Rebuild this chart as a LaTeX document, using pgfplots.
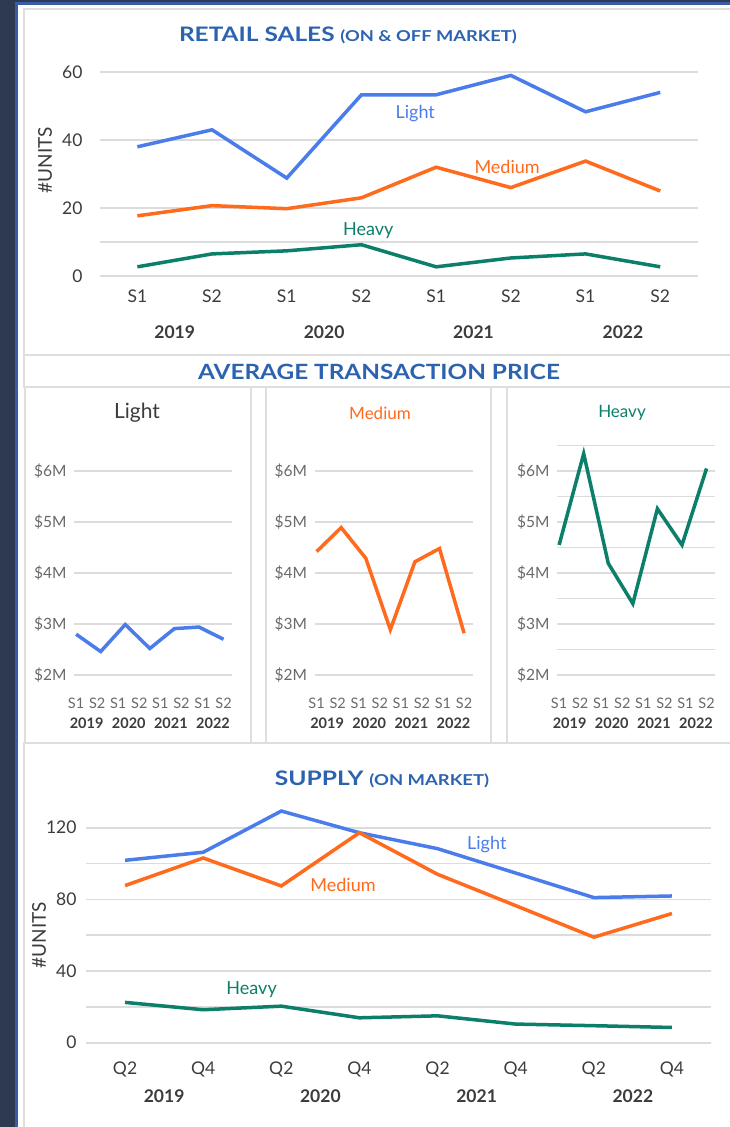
\documentclass[border=0pt]{standalone}
\usepackage{fontspec}
\setmainfont{Lato}
\usepackage{graphicx}
\usepackage{pgfplots}
\pgfplotsset{compat=1.18}
\definecolor{navy}{HTML}{2E3A52}
\definecolor{edge}{HTML}{3A5BA8}
\definecolor{frame}{HTML}{DEDEDE}
\definecolor{gridc}{HTML}{DCDCDC}
\definecolor{ttl}{HTML}{2C63B0}
\definecolor{lightc}{HTML}{4A7DEB}
\definecolor{medc}{HTML}{FF6A1C}
\definecolor{heavyc}{HTML}{0B7F69}
\definecolor{txt}{HTML}{3C3C3C}
\definecolor{txtl}{HTML}{6A6A6A}

\pgfplotsset{
  dash/.style={
    scale only axis, clip=false,
    axis line style={draw=none},
    ymajorgrids=true, grid style={gridc, line width=1.6pt},
    major tick length=0pt, tick style={draw=none},
    every axis plot/.append style={line width=3.5pt, line join=miter, mark=none},
  },
  big/.style={dash,
    xmin=-0.5, xmax=7.5, xtick={0,...,7},
    ticklabel style={font=\fontsize{17.5}{17.5}\selectfont, text=txt},
    xticklabel style={yshift=-10pt},
    yticklabel style={xshift=-6pt},
  },
  small/.style={dash,
    width=158pt, height=204pt, ymin=2, ymax=6,
    xmin=-0.1, xmax=7.4, xtick={0,...,7},
    xticklabels={S1,S2,S1,S2,S1,S2,S1,S2},
    ytick={2,3,4,5,6}, yticklabels={\$2M,\$3M,\$4M,\$5M,\$6M},
    ticklabel style={font=\fontsize{15.5}{15.5}\selectfont, text=txtl},
    xticklabel style={yshift=-19pt, font=\fontsize{14.5}{14.5}\selectfont},
    yticklabel style={xshift=-4pt},
  },
}
% year labels under a panel: #1 = base y value, #2 = shift, #3 = font
\newcommand{\years}[3]{%
  \node[text=txt, font=#3] at (axis cs:0.5,#1) [yshift=#2] {2019};
  \node[text=txt, font=#3] at (axis cs:2.5,#1) [yshift=#2] {2020};
  \node[text=txt, font=#3] at (axis cs:4.5,#1) [yshift=#2] {2021};
  \node[text=txt, font=#3] at (axis cs:6.5,#1) [yshift=#2] {2022};
}

\begin{document}
\begin{tikzpicture}[x=1pt,y=1pt]
\useasboundingbox (0,0) rectangle (730,-1127);
% frame of the dashboard
\fill[navy] (0,0) rectangle (730,-1127);
\fill[edge] (15,-2) rectangle (730,-1127);
\fill[white] (18,-5) rectangle (730,-1127);
\begin{scope}[frame, line width=1.8pt]
\draw (24,-9) rectangle (745,-355);
\draw (24,-355) rectangle (745,-387);
\draw (25,-387) rectangle (251,-743);
\draw (266,-387) rectangle (491,-743);
\draw (507,-387) rectangle (745,-743);
\draw (24,-743) rectangle (745,-1140);
\end{scope}

% titles
\node[text=ttl, font=\fontsize{20}{20}\selectfont\bfseries] at (348,-35)
  {\scalebox{1.22}[1]{RETAIL SALES {\fontsize{15}{15}\selectfont(ON \& OFF MARKET)}}};
\node[text=ttl, font=\fontsize{21}{21}\selectfont\bfseries] at (379,-372)
  {\scalebox{1.16}[1]{AVERAGE TRANSACTION PRICE}};
\node[text=ttl, font=\fontsize{20}{20}\selectfont\bfseries] at (382,-779)
  {\scalebox{1.23}[1]{SUPPLY {\fontsize{15}{15}\selectfont(ON MARKET)}}};
\node[text=txt, font=\fontsize{21}{21}\selectfont] at (137,-413) {Light};
\node[text=medc, font=\fontsize{17}{17}\selectfont] at (380,-413) {Medium};
\node[text=heavyc, font=\fontsize{17}{17}\selectfont] at (622,-413) {Heavy};
\node[rotate=90, text=txt, font=\fontsize{19}{19}\selectfont] at (45,-160) {\#UNITS};
\node[rotate=90, text=txt, font=\fontsize{19}{19}\selectfont] at (39,-935) {\#UNITS};

% ---------- retail sales ----------
\begin{axis}[big, at={(100pt,-276pt)}, anchor=south west,
  width=597.6pt, height=204pt, ymin=0, ymax=60,
  xticklabels={S1,S2,S1,S2,S1,S2,S1,S2},
  ytick={0,10,20,40,60}, yticklabels={0,,20,40,60},
  yticklabel style={xshift=-8pt}]
\addplot[lightc] coordinates {(0,38) (1,43) (2,28.8) (3,53.3) (4,53.3) (5,59) (6,48.3) (7,54)};
\addplot[medc] coordinates {(0,17.7) (1,20.7) (2,19.8) (3,23) (4,32) (5,26) (6,33.8) (7,25)};
\addplot[heavyc] coordinates {(0,2.7) (1,6.5) (2,7.4) (3,9.2) (4,2.7) (5,5.3) (6,6.5) (7,2.7)};
\node[text=lightc, font=\fontsize{18}{18}\selectfont] at (axis cs:3.72,47.9) {Light};
\node[text=medc, font=\fontsize{18}{18}\selectfont] at (axis cs:4.95,32.1) {Medium};
\node[text=heavyc, font=\fontsize{18}{18}\selectfont] at (axis cs:3.09,13.5) {Heavy};
\years{0}{-56pt}{\fontsize{17.5}{17.5}\selectfont\bfseries}
\end{axis}

% ---------- average transaction price ----------
\begin{axis}[small, at={(74pt,-675pt)}, anchor=south west]
\addplot[lightc] coordinates {(0,2.80) (1.1667,2.46) (2.3333,2.99) (3.5,2.52) (4.6667,2.91) (5.8333,2.94) (7,2.70)};
\years{2}{-48pt}{\fontsize{14.5}{14.5}\selectfont\bfseries}
\end{axis}

\begin{axis}[small, at={(314.5pt,-675pt)}, anchor=south west]
\addplot[medc] coordinates {(0,4.42) (1.1667,4.89) (2.3333,4.29) (3.5,2.89) (4.6667,4.22) (5.8333,4.48) (7,2.82)};
\years{2}{-48pt}{\fontsize{14.5}{14.5}\selectfont\bfseries}
\end{axis}

\begin{axis}[small, at={(557pt,-675pt)}, anchor=south west,
  height=229.5pt, ymax=6.5,
  ytick={2,2.5,...,6.5}, yticklabels={\$2M,,\$3M,,\$4M,,\$5M,,\$6M,}]
\addplot[heavyc] coordinates {(0,4.55) (1.1667,6.34) (2.3333,4.19) (3.5,3.40) (4.6667,5.26) (5.8333,4.55) (7,6.05)};
\years{2}{-48pt}{\fontsize{14.5}{14.5}\selectfont\bfseries}
\end{axis}

% ---------- supply ----------
\begin{axis}[big, at={(86pt,-1042.7pt)}, anchor=south west,
  width=625pt, height=215pt, ymin=0, ymax=120,
  xticklabels={Q2,Q4,Q2,Q4,Q2,Q4,Q2,Q4},
  ytick={0,20,...,120}, yticklabels={0,,40,,80,,120},
  xticklabel style={yshift=-6pt}]
\addplot[lightc] coordinates {(0,101.8) (1,106.3) (2,129.3) (3,117.2) (4,108.3) (5,94.7) (6,81) (7,81.9)};
\addplot[medc] coordinates {(0,87.7) (1,103.1) (2,87.5) (3,117.2) (4,94) (5,76.5) (6,58.9) (7,72.1)};
\addplot[heavyc] coordinates {(0,22.5) (1,18.4) (2,20.4) (3,13.9) (4,15) (5,10.4) (6,9.5) (7,8.5)};
\node[text=lightc, font=\fontsize{18}{18}\selectfont] at (axis cs:4.63,110.4) {Light};
\node[text=medc, font=\fontsize{18}{18}\selectfont] at (axis cs:2.79,88.1) {Medium};
\node[text=heavyc, font=\fontsize{18}{18}\selectfont] at (axis cs:1.62,29.4) {Heavy};
\years{0}{-53pt}{\fontsize{17.5}{17.5}\selectfont\bfseries}
\end{axis}
\end{tikzpicture}
\end{document}
